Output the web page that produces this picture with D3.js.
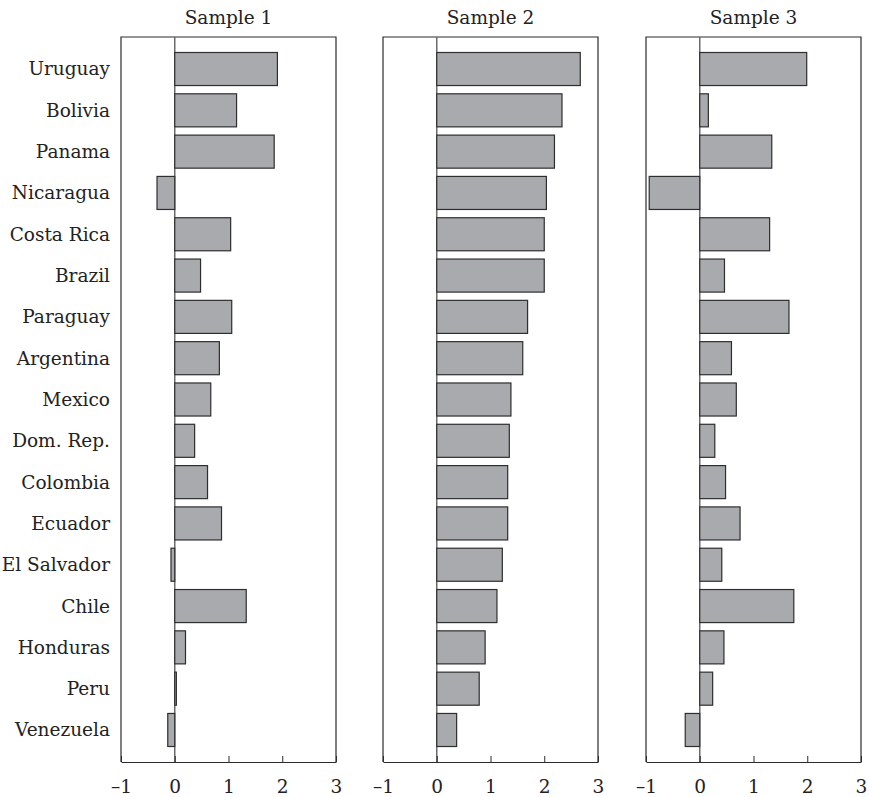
<!DOCTYPE html>
<html>
<head>
<meta charset="utf-8">
<script src="https://cdn.jsdelivr.net/npm/d3@7/dist/d3.min.js"></script>
<style>
  html, body { margin: 0; padding: 0; background: #fff; }
  svg { display: block; }
  text { font-family: "DejaVu Serif", serif; fill: #222; }
</style>
</head>
<body>
<svg id="chart" width="870" height="797"></svg>
<script>
// Countries, top to bottom
const countries = ["Uruguay", "Bolivia", "Panama", "Nicaragua", "Costa Rica", "Brazil",
  "Paraguay", "Argentina", "Mexico", "Dom. Rep.", "Colombia", "Ecuador",
  "El Salvador", "Chile", "Honduras", "Peru", "Venezuela"];

const panelTitles = ["Sample 1", "Sample 2", "Sample 3"];

const sample1 = [1.91, 1.15, 1.85, -0.33, 1.04, 0.48, 1.06, 0.83, 0.67, 0.37, 0.61, 0.87,
  -0.07, 1.33, 0.20, 0.03, -0.13];
const sample2 = [2.67, 2.33, 2.19, 2.04, 2.00, 2.00, 1.69, 1.60, 1.38, 1.35, 1.32, 1.32,
  1.22, 1.12, 0.90, 0.79, 0.37];
const sample3 = [1.99, 0.16, 1.34, -0.94, 1.30, 0.46, 1.66, 0.59, 0.68, 0.28, 0.48, 0.75,
  0.41, 1.75, 0.45, 0.24, -0.27];

const xDomain = [-1, 3];
const xTicks = [-1, 0, 1, 2, 3];

const series = [sample1, sample2, sample3];

const svg = d3.select("#chart");
const plotTop = 37, plotBottom = 762;
const panelLefts = [121, 383, 646];
const panelWidth = 215;
const fontSize = "18.5px";

const y = d3.scaleBand()
  .domain(countries)
  .range([plotTop, plotBottom])
  .paddingInner(0.2)
  .paddingOuter(0.375);

const fmt = d => (d < 0 ? "\u2013" + Math.abs(d) : String(d));

// Country labels on the left
svg.append("g")
  .selectAll("text")
  .data(countries)
  .join("text")
  .attr("x", 110)
  .attr("y", d => y(d) + y.bandwidth() / 2)
  .attr("dy", "0.35em")
  .attr("text-anchor", "end")
  .style("font-size", fontSize)
  .text(d => d);

series.forEach((vals, i) => {
  const x0 = panelLefts[i];
  const x = d3.scaleLinear().domain(xDomain).range([x0, x0 + panelWidth]);
  const g = svg.append("g");

  // Title
  g.append("text")
    .attr("x", x0 + panelWidth / 2)
    .attr("y", 24)
    .attr("text-anchor", "middle")
    .style("font-size", fontSize)
    .text(panelTitles[i]);

  // Frame: left, top, right
  g.append("path")
    .attr("d", `M${x0},${plotBottom}V${plotTop}H${x0 + panelWidth}V${plotBottom}`)
    .attr("fill", "none")
    .attr("stroke", "#2b2b2b")
    .attr("stroke-width", 1.2);

  // Zero line
  g.append("line")
    .attr("x1", x(0)).attr("x2", x(0))
    .attr("y1", plotTop).attr("y2", plotBottom)
    .attr("stroke", "#6a6a6a")
    .attr("stroke-width", 1.5);

  // Bars
  g.append("g")
    .selectAll("rect")
    .data(vals)
    .join("rect")
    .attr("x", d => Math.min(x(0), x(d)))
    .attr("y", (d, j) => y(countries[j]))
    .attr("width", d => Math.abs(x(d) - x(0)))
    .attr("height", y.bandwidth())
    .attr("fill", "#a9aaad")
    .attr("stroke", "#2e2e2e")
    .attr("stroke-width", 1.2);

  // Bottom axis with inward ticks
  const axis = d3.axisBottom(x)
    .tickValues(xTicks)
    .tickSizeInner(-6)
    .tickSizeOuter(0)
    .tickPadding(18)
    .tickFormat(fmt);
  const ag = g.append("g")
    .attr("transform", `translate(0,${plotBottom})`)
    .call(axis);
  ag.select(".domain").attr("stroke", "#2b2b2b").attr("stroke-width", 1.2);
  ag.selectAll(".tick line").attr("stroke", "#2b2b2b").attr("stroke-width", 1);
  ag.selectAll(".tick text")
    .style("font-size", fontSize)
    .style("font-family", "'DejaVu Serif', serif")
    .attr("fill", "#222");
});
</script>
</body>
</html>
